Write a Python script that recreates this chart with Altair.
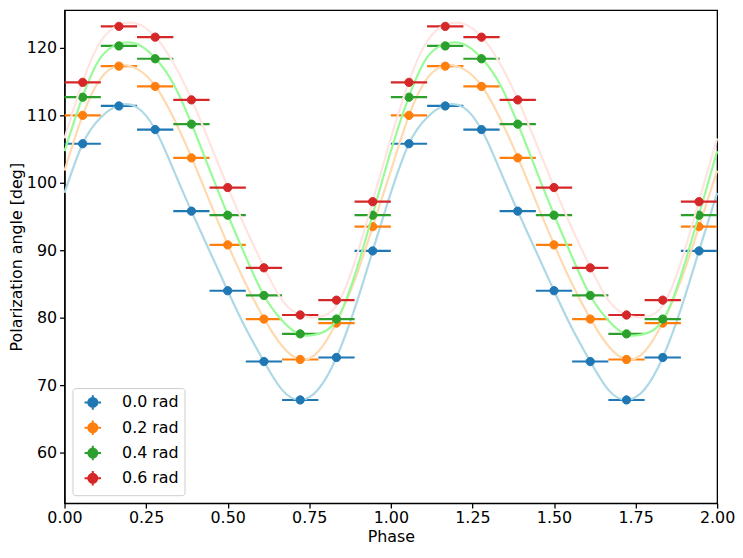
import altair as alt
import pandas as pd

# ---- data ----
labels = ["0.0 rad", "0.2 rad", "0.4 rad", "0.6 rad"]
point_colors = ["#1f77b4", "#ff7f0e", "#2ca02c", "#d62728"]
curve_colors = ["#add8e6", "#ffdab0", "#98fb98", "#ffe4e1"]

# measured phase bins (one rotation); pattern repeats for the second rotation
phase_bins = [0.0556, 0.1667, 0.2778, 0.3889, 0.5, 0.6111, 0.7222, 0.8333, 0.9444]
phase_halfwidth = 0.0556

pa_00 = [105.8, 111.4, 107.9, 95.8, 84.0, 73.5, 67.8, 74.1, 89.9]
pa_02 = [110.0, 117.3, 114.3, 103.7, 90.8, 79.8, 73.8, 79.2, 93.5]
pa_04 = [112.7, 120.3, 118.4, 108.7, 95.2, 83.3, 77.6, 79.8, 95.2]
pa_06 = [114.9, 123.2, 121.6, 112.3, 99.3, 87.4, 80.4, 82.6, 97.2]
point_series = [pa_00, pa_02, pa_04, pa_06]

# model curves at phases k/18 (one rotation)
curve_phase = [0.0, 0.0556, 0.1111, 0.1667, 0.2222, 0.2778, 0.3333, 0.3889, 0.4444,
               0.5, 0.5556, 0.6111, 0.6667, 0.7222, 0.7778, 0.8333, 0.8889, 0.9444]
model_00 = [98.5, 105.8, 109.7, 111.5, 111.2, 107.9, 102.0, 95.8, 89.9,
            84.0, 78.4, 73.5, 69.3, 67.8, 69.4, 74.1, 81.3, 89.9]
model_02 = [101.8, 110.0, 115.5, 117.4, 116.9, 114.4, 109.7, 103.8, 97.3,
            90.9, 85.0, 79.9, 75.8, 73.8, 75.0, 79.3, 85.5, 93.5]
model_04 = [104.7, 112.8, 118.6, 120.6, 120.6, 118.5, 114.7, 108.8, 102.0,
            95.3, 89.0, 83.3, 79.6, 77.5, 77.6, 79.6, 86.2, 95.3]
model_06 = [106.6, 115.0, 121.0, 123.4, 123.6, 121.7, 117.8, 112.4, 106.0,
            99.4, 93.2, 87.5, 82.6, 80.4, 80.1, 81.8, 88.2, 97.3]
model_series = [model_00, model_02, model_04, model_06]

x_ticks = [0.0, 0.25, 0.5, 0.75, 1.0, 1.25, 1.5, 1.75, 2.0]
y_ticks = [60, 70, 80, 90, 100, 110, 120]

# ---- tables ----
pt_rows = []
for lab, vals in zip(labels, point_series):
    for cyc in (0, 1):
        for ph, v in zip(phase_bins, vals):
            p = ph + cyc
            pt_rows.append({"series": lab, "phase": p, "lo": p - phase_halfwidth,
                            "hi": p + phase_halfwidth, "pa": v})
pts = pd.DataFrame(pt_rows)

cv_rows = []
for lab, vals in zip(labels, model_series):
    for cyc in (0, 1):
        for ph, v in zip(curve_phase, vals):
            cv_rows.append({"series": lab, "phase": ph + cyc, "pa": v})
    cv_rows.append({"series": lab, "phase": 2.0, "pa": vals[0]})
cvs = pd.DataFrame(cv_rows)

FONT = "DejaVu Sans"
FS = 16

xscale = alt.Scale(domain=[0, 2], nice=False, zero=False)
yscale = alt.Scale(domain=[52.5, 125.6], nice=False, zero=False)
xaxis = alt.Axis(values=x_ticks, format=".2f", title="Phase", grid=False,
                 labelFlush=False, labelPadding=2, titlePadding=3)
yaxis = alt.Axis(values=y_ticks, title="Polarization angle [deg]", grid=False,
                 labelFlush=False, labelPadding=3, titlePadding=2)
cscale = alt.Scale(domain=labels, range=point_colors)

symbol_path = ("M-1,0L1,0M0,-0.88L0,0.88"
               "M0.55,0A0.55,0.55,0,1,1,-0.55,0A0.55,0.55,0,1,1,0.55,0Z")
legend = alt.Legend(
    title=None, orient="bottom-left", offset=8,
    symbolType=symbol_path, symbolSize=276, symbolStrokeWidth=2,
    symbolOffset=6, labelOffset=20,
    labelFont=FONT, labelFontSize=FS, labelColor="black",
    padding=5, rowPadding=2.5,
    strokeColor="#cccccc", fillColor="rgba(255,255,255,0.8)", cornerRadius=3,
)

layers = []
for i, lab in enumerate(labels):
    flt = alt.datum.series == lab
    bars = alt.Chart(pts).transform_filter(flt).mark_rule(
        color=point_colors[i], strokeWidth=2.2
    ).encode(
        x=alt.X("lo:Q", scale=xscale, axis=xaxis),
        x2="hi:Q",
        y=alt.Y("pa:Q", scale=yscale, axis=yaxis),
    )
    curve = alt.Chart(cvs).transform_filter(flt).mark_line(
        color=curve_colors[i], strokeWidth=2.2, interpolate="natural"
    ).encode(
        x=alt.X("phase:Q", scale=xscale, axis=xaxis),
        y=alt.Y("pa:Q", scale=yscale, axis=yaxis),
    )
    dots = alt.Chart(pts).transform_filter(flt).mark_point(
        filled=True, size=70, opacity=1, strokeWidth=1
    ).encode(
        x=alt.X("phase:Q", scale=xscale, axis=xaxis),
        y=alt.Y("pa:Q", scale=yscale, axis=yaxis),
        color=alt.Color("series:N", scale=cscale, legend=legend),
        stroke=alt.Stroke("series:N", scale=cscale, legend=legend),
    )
    layers += [bars, curve, dots]

chart = alt.layer(*layers).properties(
    width=658, height=497,
    padding={"left": 0, "top": 0, "right": 0, "bottom": 0},
).configure_view(
    stroke="black", strokeWidth=1.3
).configure_axis(
    labelFont=FONT, labelFontSize=FS, labelColor="black",
    titleFont=FONT, titleFontSize=FS, titleColor="black", titleFontWeight="normal",
    domainColor="black", domainWidth=1.3,
    tickColor="black", tickWidth=1.3, tickSize=5,
)

chart.save("out.html", embed_options={"renderer": "svg", "actions": False})
